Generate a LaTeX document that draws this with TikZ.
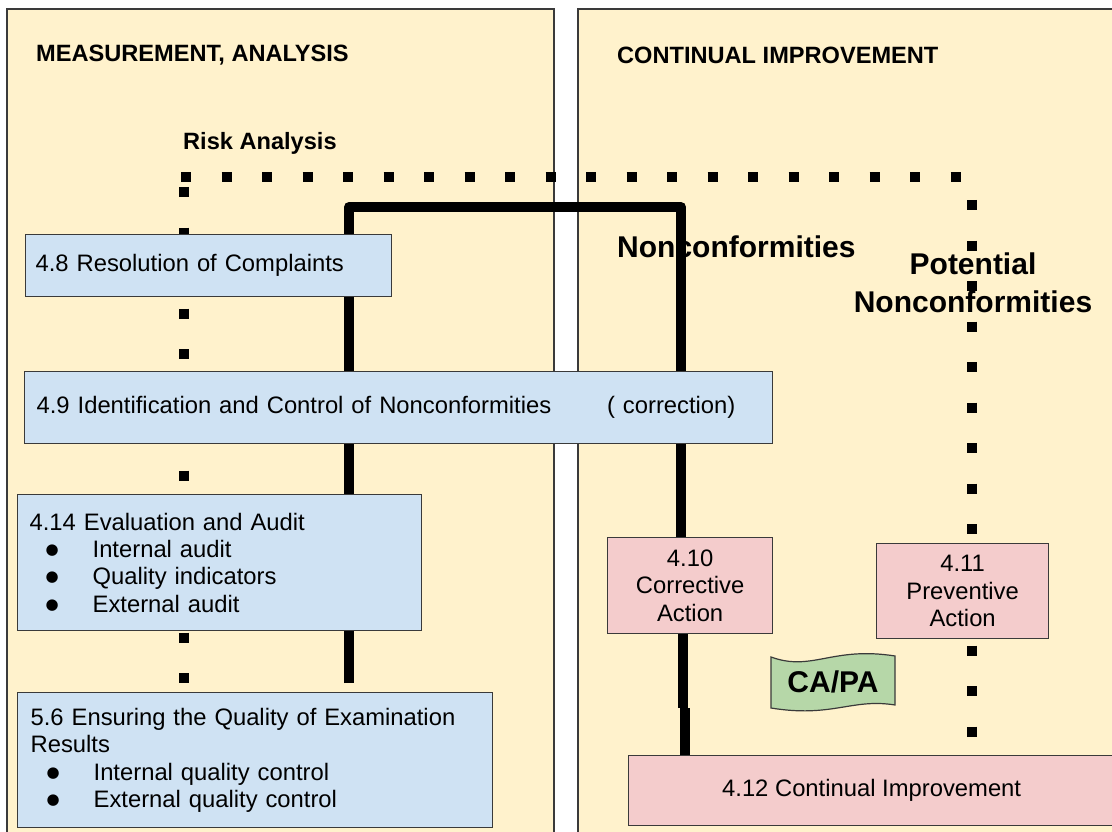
\documentclass[tikz,border=0pt]{standalone}
\usepackage{fontspec}
\setmainfont{Liberation Sans}
\newfontfamily\dejavu{DejaVu Sans}
\definecolor{panelfill}{HTML}{FFF2CC}
\definecolor{bluebox}{HTML}{CFE2F3}
\definecolor{pinkbox}{HTML}{F4CCCC}
\definecolor{flaggreen}{HTML}{B6D7A8}
\definecolor{edgegray}{HTML}{3A3A3A}
\pgfdeclarelayer{panels}
\pgfdeclarelayer{lines}
\pgfsetlayers{panels,lines,main}
\newcommand{\txt}{\fontsize{23.8}{27.4}\selectfont}
\newcommand{\hdr}{\fontsize{23.6}{28}\selectfont\bfseries}
\newcommand{\bigbold}{\fontsize{30}{38}\selectfont\bfseries}
\newcommand{\bul}[1]{\makebox[63pt][l]{\hspace*{16pt}\raisebox{3pt}{\dejavu\fontsize{15}{15}\selectfont ●}}#1}
\tikzset{
  panel/.style={draw=edgegray, line width=1.2pt, fill=panelfill},
  sect/.style={draw=edgegray, line width=1.3pt, fill=bluebox, anchor=north west,
    inner ysep=0pt, align=left, font=\txt},
  act/.style={draw=edgegray, line width=1.3pt, fill=pinkbox, anchor=north west,
    inner sep=0pt, align=center, font=\txt},
  flow/.style={line width=10pt, line join=round},
  riskdots/.style={line width=10pt, dash pattern=on 10pt off 30.5pt},
}
\begin{document}
\begin{tikzpicture}[x=1pt,y=1pt,yscale=-1,xscale=1]
\useasboundingbox (0,0) rectangle (1112,832);

% the two panels
\begin{pgfonlayer}{panels}
\fill[white] (0,0) rectangle (1112,832);
\draw[panel] (7,9) rectangle (554,845);
\draw[panel] (578,9) rectangle (1125,845);
\end{pgfonlayer}

% panel titles
\draw (36,55) node [anchor=west][inner sep=0pt] [font=\hdr] (ttlMA) {MEASUREMENT, ANALYSIS};
\draw (617,55) node [anchor=west][inner sep=0pt] [font=\hdr] (ttlCI) {CONTINUAL IMPROVEMENT};
\draw (183,143) node [anchor=west][inner sep=0pt] [font=\hdr] (risk) {Risk Analysis};

% measurement boxes
\draw (25,234) node [sect, inner xsep=10pt, text width=346pt, minimum height=62pt] (q48)
  {4.8 Resolution of Complaints};
\draw (24,371) node [sect, inner xsep=12pt, text width=724pt, minimum height=72pt] (q49)
  {4.9 Identification and Control of Nonconformities\hspace{2.35em}( correction)};
\draw (17,494) node [sect, inner xsep=12pt, text width=380pt, minimum height=136pt] (q414)
  {4.14 Evaluation and Audit\\ \bul{Internal audit}\\ \bul{Quality indicators}\\ \bul{External audit}};
\draw (17,692) node [sect, inner xsep=13pt, text width=449pt, minimum height=135pt] (q56)
  {5.6 Ensuring the Quality of Examination\\ Results\\ \bul{Internal quality control}\\ \bul{External quality control}};

% improvement boxes
\draw (607,537) node [act, minimum width=165pt, minimum height=96pt] (ca)
  {4.10\\ Corrective\\ Action};
\draw (876,543) node [act, minimum width=172pt, minimum height=95pt] (pa)
  {4.11\\ Preventive\\ Action};
\draw (628,755) node [act, minimum width=486pt, minimum height=70pt] (q412)
  {4.12 Continual Improvement};

% labels
\draw (617,247) node [anchor=west][inner sep=0pt] [font=\bigbold] (nc) {Nonconformities};
\draw (973,283) node [align=center][inner sep=0pt] [font=\bigbold] (pnc) {Potential\\ Nonconformities};

% CA/PA flag
\draw[draw=edgegray, line width=1.2pt, fill=flaggreen] (771,657) .. controls (812,672) and (832,646) .. (895,656)
  -- (895,705) .. controls (852,698) and (832,718) .. (771,708) -- cycle;
\draw (833,682) node [inner sep=0pt] [font=\bigbold] (capa) {CA/PA};

% connectors behind the boxes
\begin{pgfonlayer}{lines}
\coordinate (riskL) at (184,177);
\coordinate (riskR) at (972,177);
\draw[riskdots] (181,177) -- (960.5,177);
\draw[riskdots] (riskL) ++(0,10) -- (184,683);
\draw[riskdots] (riskR) ++(0,23) -- (972,736.5);

\coordinate (ncL) at (349,207);
\coordinate (ncR) at (681,207);
\coordinate (kinkA) at (683,708);
\coordinate (kinkB) at (685,708);
\draw[flow] (ncL |- q56.north) ++(0,-9) -- (ncL) -- (ncR) -- (ncR |- ca.north);
\draw[flow] (kinkA |- ca.south) -- (kinkA);
\draw[flow] (kinkB) -- (kinkB |- q412.north);
\end{pgfonlayer}
\end{tikzpicture}
\end{document}
